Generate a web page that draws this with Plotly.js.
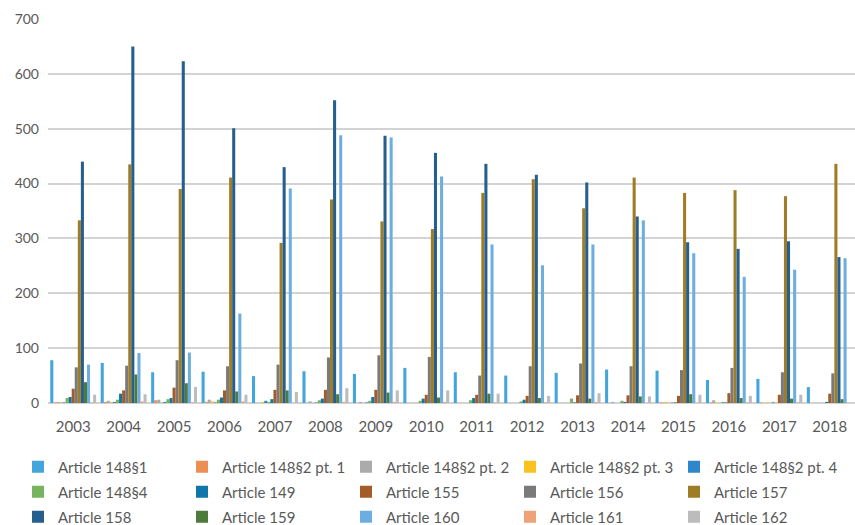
<!DOCTYPE html>
<html><head><meta charset="utf-8">
<script src="https://cdn.plot.ly/plotly-3.0.1.min.js"></script>
<style>html,body{margin:0;padding:0;background:#fff}#chart{width:855px;height:525px}</style>
</head><body><div id="chart"></div><script>
var years = ['2003','2004','2005','2006','2007','2008','2009','2010','2011','2012','2013','2014','2015','2016','2017','2018'];
var seriesNames = ['Article 148§1','Article 148§2 pt. 1','Article 148§2 pt. 2','Article 148§2 pt. 3','Article 148§2 pt. 4','Article 148§4','Article 149','Article 155','Article 156','Article 157','Article 158','Article 159','Article 160','Article 161','Article 162'];
var a148_1   = [78,73,56,57,49,58,53,64,56,50,55,61,59,42,44,29];
var a148_2_1 = [1,2,5,2,0,0,0,0,0,0,0,0,1,1,1,0];
var a148_2_2 = [2,4,6,6,0,3,2,0,0,0,0,2,1,5,0,0];
var a148_2_3 = [1,2,1,3,2,0,0,0,0,0,0,0,2,1,1,0];
var a148_2_4 = [1,2,2,1,4,1,1,0,0,0,0,0,0,0,0,0];
var a148_4   = [9,6,7,6,2,5,4,4,5,3,8,4,1,2,2,0];
var a149     = [11,17,9,10,7,8,11,8,9,6,1,2,1,1,0,2];
var a155     = [26,23,28,23,24,24,24,15,15,13,14,14,13,18,15,17];
var a156     = [65,68,78,67,70,83,87,84,50,67,72,67,60,64,56,54];
var a157     = [333,435,390,411,292,371,331,317,383,408,355,411,383,388,377,436];
var a158     = [440,650,623,501,430,552,487,456,436,416,402,340,293,281,295,266];
var a159     = [38,52,36,21,23,16,19,10,17,9,8,12,16,9,8,7];
var a160     = [70,91,92,163,391,488,484,413,289,251,289,333,273,230,243,264];
var a161     = [1,3,1,3,0,2,2,2,1,1,2,0,0,1,1,0];
var a162     = [15,16,29,15,20,27,23,23,17,13,18,12,15,13,15,0];

var values = [a148_1,a148_2_1,a148_2_2,a148_2_3,a148_2_4,a148_4,a149,a155,a156,a157,a158,a159,a160,a161,a162];
var colors = ['#42a5dc','#ec8f55','#ababab','#f9c31f','#2f87cb','#78b35e','#0e76a8','#a35b27','#7a7a7a','#a07c26','#255f8d','#4c7b3b','#6caee0','#eea27a','#bcbcbd'];

var FONT = 'Lato, "Open Sans", Roboto, Arial, sans-serif';
var COLS = 5, COL_W = 164, TEXT_X0 = 58, ROW_Y0 = 467, ROW_H = 25;

var traces = values.map(function(v, i){
  return {type:'bar', name: seriesNames[i], x: years, y: v,
    marker:{color: colors[i], line:{width:0}},
    legend: i === 0 ? 'legend' : 'legend' + (i + 1), hoverinfo:'x+y+name'};
});

var layout = {
  width:855, height:525,
  margin:{l:48, r:0, t:19, b:122, pad:0},
  paper_bgcolor:'#ffffff', plot_bgcolor:'#ffffff',
  barmode:'group', bargap:0.09, bargroupgap:0,
  font:{family:FONT, size:15, color:'#595959'},
  xaxis:{type:'category', showgrid:false, showline:false, zeroline:false, ticks:'',
    tickfont:{family:FONT, size:15, color:'#595959'}, ticklabelstandoff:13},
  yaxis:{range:[0,700], dtick:100, tick0:0, showgrid:true, gridcolor:'#d3d3d6', gridwidth:2,
    zeroline:true, zerolinecolor:'#d3d3d6', zerolinewidth:2, showline:false, ticks:'',
    tickfont:{family:FONT, size:14, color:'#595959'}, ticklabelstandoff:8},
  showlegend:true
};

seriesNames.forEach(function(n, i){
  var col = i % COLS, row = Math.floor(i / COLS);
  var key = i === 0 ? 'legend' : 'legend' + (i + 1);
  layout[key] = {orientation:'h', xref:'container', yref:'container',
    x:(TEXT_X0 - 40 + col * COL_W) / 855, y:1 - (ROW_Y0 + row * ROW_H) / 525,
    xanchor:'left', yanchor:'middle', itemwidth:30,
    font:{family:FONT, size:15, color:'#595959'}, bgcolor:'rgba(0,0,0,0)'};
});

Plotly.newPlot('chart', traces, layout, {displayModeBar:false, staticPlot:true});
</script></body></html>
